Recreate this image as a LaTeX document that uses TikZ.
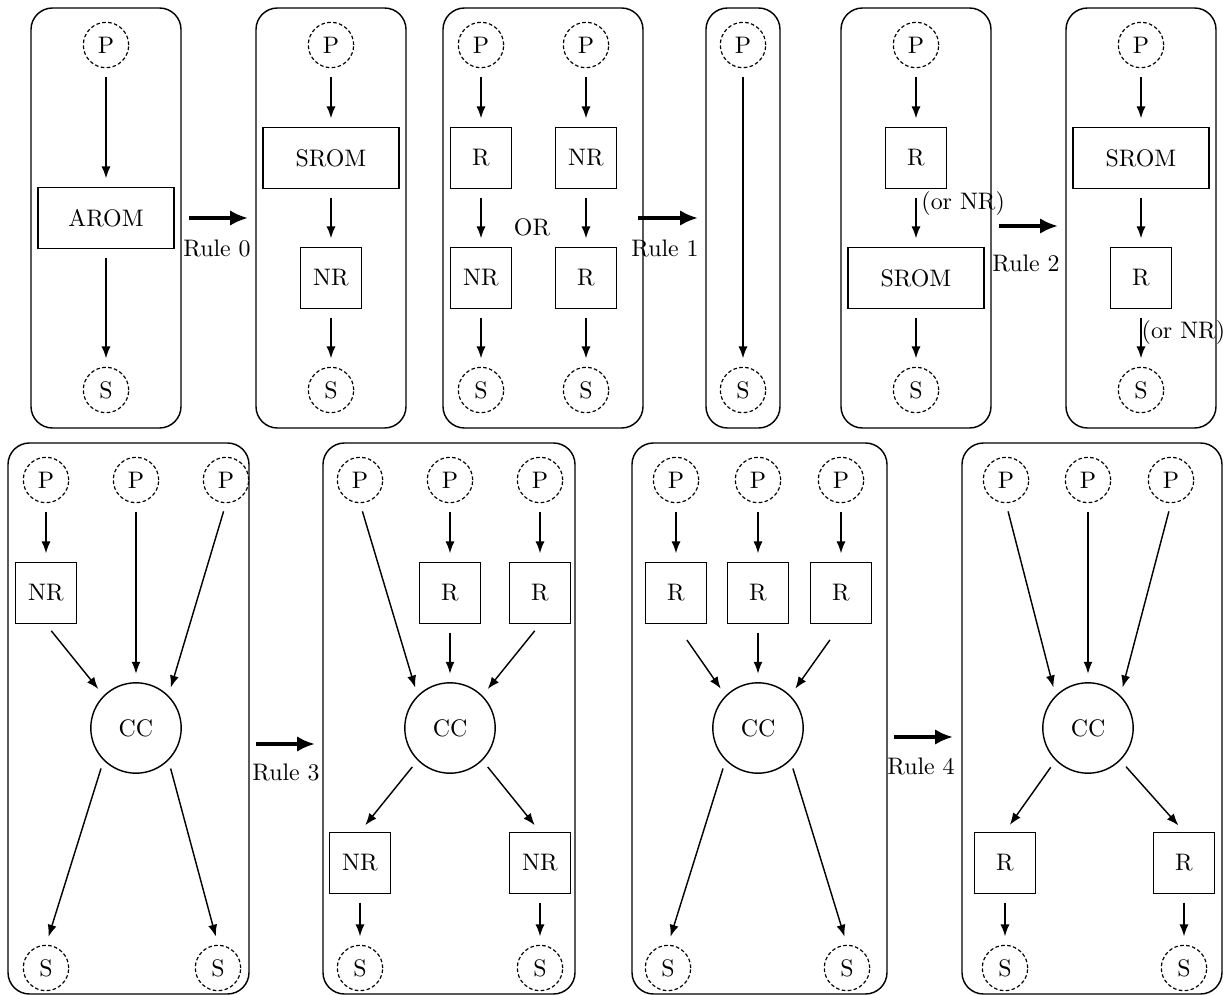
\documentclass[tikz,border=0pt]{standalone}
\usetikzlibrary{arrows.meta}

\begin{document}
\begin{tikzpicture}[x=0.0147059cm, y=-0.0147059cm, line width=0.6pt,
  term/.style={circle, draw, line width=0.5pt, dash pattern=on 1.5pt off 1pt, minimum size=19pt, inner sep=0pt},
  blk/.style={draw, minimum width=0.9cm, minimum height=0.9cm},
  wideblk/.style={blk, minimum width=2cm},
  cc/.style={circle, draw, minimum size=1.33cm},
  arr/.style={-{Latex[length=5pt,width=3.8pt]}, shorten <=3.5pt, shorten >=3.5pt},
  rulearr/.style={-{Latex[length=7.5pt,width=6.5pt]}, line width=1.6pt},
  panel/.style={draw, rounded corners=9pt}]
  \useasboundingbox (0,0) rectangle (1223,995);

  \draw[panel] (31,8) rectangle (181,428);
  \node[term] (aP) at (106,45) {P};
  \node[wideblk] (aAROM) at (106,218) {AROM};
  \node[term] (aS) at (106,390) {S};
  \draw[arr] (aP) -- (aAROM);
  \draw[arr] (aAROM) -- (aS);

  \coordinate (r0a) at (189,218);
  \coordinate (r0b) at (248,218);
  \draw[rulearr] (r0a) -- (r0b);
  \node (r0) at (217,248) {Rule 0};

  \draw[panel] (256,8) rectangle (406,428);
  \node[term] (bP) at (331,45) {P};
  \node[wideblk] (bSROM) at (331,158) {SROM};
  \node[blk] (bNR) at (331,278) {NR};
  \node[term] (bS) at (331,390) {S};
  \draw[arr] (bP) -- (bSROM);
  \draw[arr] (bSROM) -- (bNR);
  \draw[arr] (bNR) -- (bS);

  \draw[panel] (443,8) rectangle (643,428);
  \node[term] (cP1) at (481,45) {P};
  \node[blk] (cR1) at (481,158) {R};
  \node[blk] (cNR1) at (481,278) {NR};
  \node[term] (cS1) at (481,390) {S};
  \node[term] (cP2) at (586,45) {P};
  \node[blk] (cNR2) at (586,158) {NR};
  \node[blk] (cR2) at (586,278) {R};
  \node[term] (cS2) at (586,390) {S};
  \node (cOR) at (532,227) {OR};
  \draw[arr] (cP1) -- (cR1);
  \draw[arr] (cR1) -- (cNR1);
  \draw[arr] (cNR1) -- (cS1);
  \draw[arr] (cP2) -- (cNR2);
  \draw[arr] (cNR2) -- (cR2);
  \draw[arr] (cR2) -- (cS2);

  \coordinate (r1a) at (638,218);
  \coordinate (r1b) at (698,218);
  \draw[rulearr] (r1a) -- (r1b);
  \node (r1) at (665,248) {Rule 1};

  \draw[panel] (706,8) rectangle (780,428);
  \node[term] (dP) at (743,45) {P};
  \node[term] (dS) at (743,390) {S};
  \draw[arr] (dP) -- (dS);

  \draw[panel] (841,8) rectangle (991,428);
  \node[term] (eP) at (916,45) {P};
  \node[blk] (eR) at (916,158) {R};
  \node[wideblk] (eSROM) at (916,278) {SROM};
  \node[term] (eS) at (916,390) {S};
  \draw[arr] (eP) -- (eR);
  \draw[arr] (eR) -- node[pos=0.25, right, inner sep=2pt] {(or NR)} (eSROM);
  \draw[arr] (eSROM) -- (eS);

  \coordinate (r2a) at (999,226);
  \coordinate (r2b) at (1058,226);
  \draw[rulearr] (r2a) -- (r2b);
  \node (r2) at (1026,263) {Rule 2};

  \draw[panel] (1066,8) rectangle (1216,428);
  \node[term] (fP) at (1141,45) {P};
  \node[wideblk] (fSROM) at (1141,158) {SROM};
  \node[blk] (fR) at (1141,278) {R};
  \node[term] (fS) at (1141,390) {S};
  \draw[arr] (fP) -- (fSROM);
  \draw[arr] (fSROM) -- (fR);
  \draw[arr] (fR) -- node[pos=0.4, right, inner sep=0pt] {(or NR)} (fS);

  \draw[panel] (8,443) rectangle (249,994);
  \node[term] (gP1) at (46,480) {P};
  \node[term] (gP2) at (136,480) {P};
  \node[term] (gP3) at (226,480) {P};
  \node[blk] (gNR) at (46,593) {NR};
  \node[cc] (gCC) at (136,728) {CC};
  \node[term] (gS1) at (46,968) {S};
  \node[term] (gS2) at (218,968) {S};
  \draw[arr] (gP1) -- (gNR);
  \draw[arr] (gNR.south) -- (gCC.north west);
  \draw[arr] (gP2) -- (gCC);
  \draw[arr] (gP3.south) -- (gCC.north east);
  \draw[arr] (gCC.south west) -- (gS1.north);
  \draw[arr] (gCC.south east) -- (gS2.north);

  \coordinate (r3a) at (256,744);
  \coordinate (r3b) at (315,744);
  \draw[rulearr] (r3a) -- (r3b);
  \node (r3) at (286,772) {Rule 3};

  \draw[panel] (323,443) rectangle (575,994);
  \node[term] (hP1) at (360,480) {P};
  \node[term] (hP2) at (450,480) {P};
  \node[term] (hP3) at (540,480) {P};
  \node[blk] (hR2) at (450,593) {R};
  \node[blk] (hR3) at (540,593) {R};
  \node[cc] (hCC) at (450,728) {CC};
  \node[blk] (hNR1) at (360,863) {NR};
  \node[blk] (hNR2) at (540,863) {NR};
  \node[term] (hS1) at (360,968) {S};
  \node[term] (hS2) at (540,968) {S};
  \draw[arr] (hP1.south) -- (hCC.north west);
  \draw[arr] (hP2) -- (hR2);
  \draw[arr] (hP3) -- (hR3);
  \draw[arr] (hR2) -- (hCC);
  \draw[arr] (hR3.south) -- (hCC.north east);
  \draw[arr] (hCC.south west) -- (hNR1.north);
  \draw[arr] (hCC.south east) -- (hNR2.north);
  \draw[arr] (hNR1) -- (hS1);
  \draw[arr] (hNR2) -- (hS2);

  \draw[panel] (632,443) rectangle (887,994);
  \node[term] (iP1) at (676,480) {P};
  \node[term] (iP2) at (758,480) {P};
  \node[term] (iP3) at (841,480) {P};
  \node[blk] (iR1) at (676,593) {R};
  \node[blk] (iR2) at (758,593) {R};
  \node[blk] (iR3) at (841,593) {R};
  \node[cc] (iCC) at (758,728) {CC};
  \node[term] (iS1) at (668,968) {S};
  \node[term] (iS2) at (847,968) {S};
  \draw[arr] (iP1) -- (iR1);
  \draw[arr] (iP2) -- (iR2);
  \draw[arr] (iP3) -- (iR3);
  \draw[arr, shorten <=8pt] (iR1.south) -- (iCC.north west);
  \draw[arr] (iR2) -- (iCC);
  \draw[arr, shorten <=8pt] (iR3.south) -- (iCC.north east);
  \draw[arr] (iCC.south west) -- (iS1.north);
  \draw[arr] (iCC.south east) -- (iS2.north);

  \coordinate (r4a) at (894,737);
  \coordinate (r4b) at (953,737);
  \draw[rulearr] (r4a) -- (r4b);
  \node (r4) at (921,766) {Rule 4};

  \draw[panel] (962,443) rectangle (1222,994);
  \node[term] (jP1) at (1006,480) {P};
  \node[term] (jP2) at (1088,480) {P};
  \node[term] (jP3) at (1171,480) {P};
  \node[cc] (jCC) at (1088,728) {CC};
  \node[blk] (jR1) at (1005,863) {R};
  \node[blk] (jR2) at (1184,863) {R};
  \node[term] (jS1) at (1005,968) {S};
  \node[term] (jS2) at (1184,968) {S};
  \draw[arr] (jP1.south) -- (jCC.north west);
  \draw[arr] (jP2) -- (jCC);
  \draw[arr] (jP3.south) -- (jCC.north east);
  \draw[arr] (jCC.south west) -- (jR1.north);
  \draw[arr] (jCC.south east) -- (jR2.north);
  \draw[arr] (jR1) -- (jS1);
  \draw[arr] (jR2) -- (jS2);
\end{tikzpicture}
\end{document}
